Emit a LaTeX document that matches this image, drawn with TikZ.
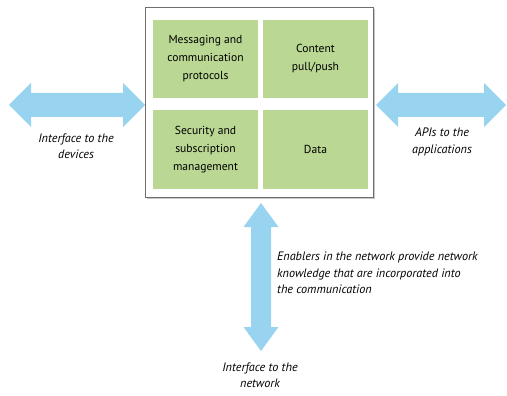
\documentclass[tikz,border=0pt]{standalone}
\usepackage{fontspec}
\setmainfont{PT Sans}
\usetikzlibrary{calc}
\definecolor{boxgreen}{RGB}{186,215,147}
\definecolor{arrowblue}{RGB}{152,212,239}
\definecolor{framegray}{RGB}{110,110,110}
\begin{document}
\begin{tikzpicture}[x=1pt,y=-1pt,
  greenbox/.style={fill=boxgreen, draw=none, minimum width=105pt, minimum height=79pt, align=center, inner sep=0pt, font=\fontsize{11.6}{18}\selectfont},
  blockarrow/.style={fill=arrowblue, draw=none},
  label/.style={align=center, font=\fontsize{12.2}{16.5}\itshape, inner sep=0pt}]
\useasboundingbox (0,0) rectangle (507,396);
% outer frame with shadow
\fill[gray!45] (147,9) rectangle (375,199);
\node[draw=framegray, line width=0.9pt, fill=white, minimum width=228pt, minimum height=190pt, inner sep=0pt, anchor=north west] (frame) at (145,7) {};
% green boxes
\node[greenbox, minimum height=78pt] (msg) at (205.5,59) {Messaging and\\communication\\protocols};
\node[greenbox, minimum height=78pt] (content) at (315.5,59) {Content\\pull/push};
\node[greenbox] (sec) at (205.5,149.5) {Security and\\subscription\\management};
\node[greenbox] (data) at (315.5,149.5) {Data};
% left arrow
\coordinate (la1) at (9,105);
\coordinate (la2) at (frame.west |- la1);
\fill[blockarrow] (la1) -- ($(la1)+(22,-22)$) -- ($(la1)+(22,-12)$) -- ($(la2)+(-22,-12)$) -- ($(la2)+(-22,-22)$) -- (la2)
  -- ($(la2)+(-22,22)$) -- ($(la2)+(-22,12)$) -- ($(la1)+(22,12)$) -- ($(la1)+(22,22)$) -- cycle;
% right arrow
\coordinate (ra1) at (376,105);
\coordinate (ra2) at (506,105);
\fill[blockarrow] (ra1) -- ($(ra1)+(22,-22)$) -- ($(ra1)+(22,-12)$) -- ($(ra2)+(-22,-12)$) -- ($(ra2)+(-22,-22)$) -- (ra2)
  -- ($(ra2)+(-22,22)$) -- ($(ra2)+(-22,12)$) -- ($(ra1)+(22,12)$) -- ($(ra1)+(22,22)$) -- cycle;
% vertical arrow
\coordinate (va1) at (261,203);
\coordinate (va2) at (261,351);
\fill[blockarrow] (va1) -- ($(va1)+(17.5,24)$) -- ($(va1)+(10,24)$) -- ($(va2)+(10,-24)$) -- ($(va2)+(17.5,-24)$) -- (va2)
  -- ($(va2)+(-17.5,-24)$) -- ($(va2)+(-10,-24)$) -- ($(va1)+(-10,24)$) -- ($(va1)+(-17.5,24)$) -- cycle;
% labels
\node[label] (dev) at (76,146) {Interface to the\\devices};
\node[label] (api) at (442,142) {APIs to the\\applications};
\node[label, align=left, anchor=west] (enab) at (277,273) {Enablers in the network provide network\\knowledge that are incorporated into\\the communication};
\node[label] (net) at (260,375) {Interface to the\\network};
\end{tikzpicture}
\end{document}
